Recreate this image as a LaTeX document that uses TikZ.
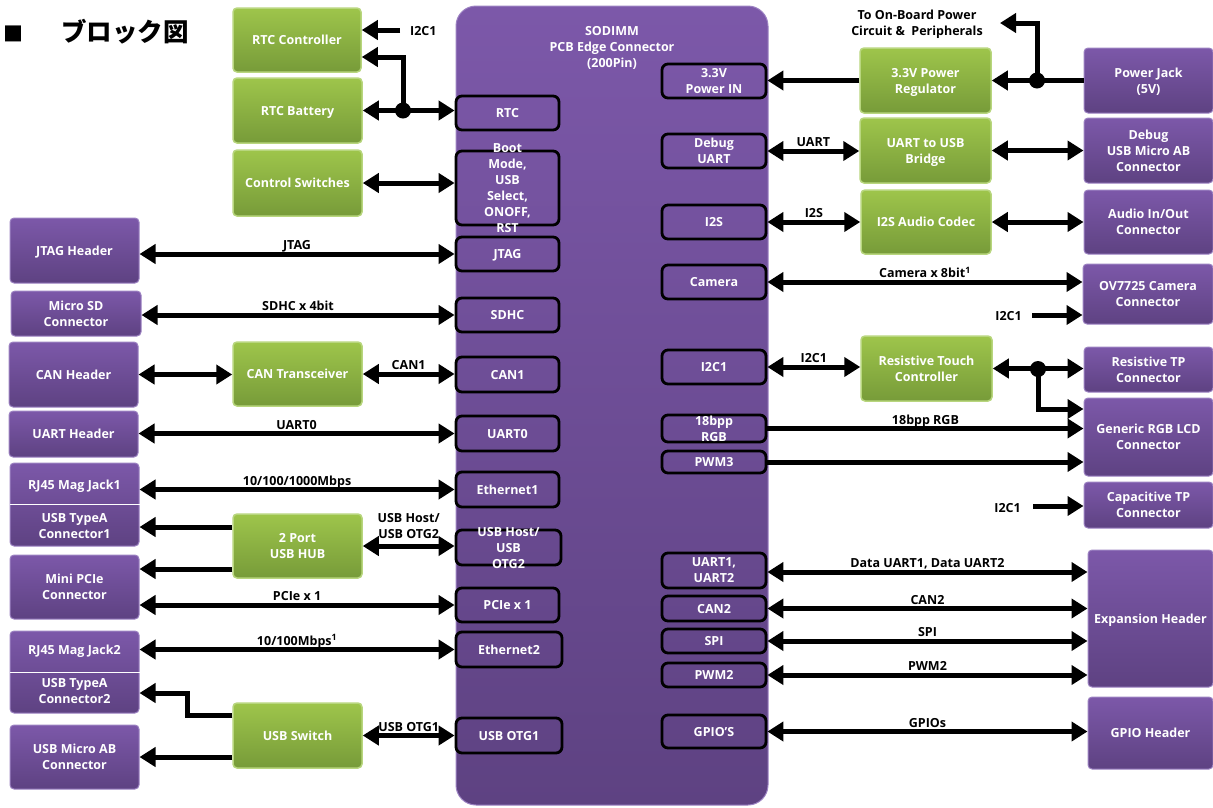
\documentclass[tikz,border=0pt]{standalone}
\usepackage{fontspec}
\setmainfont{Open Sans}
\newfontfamily\cjkfont{Noto Sans CJK JP}
\usetikzlibrary{arrows.meta,calc}
\definecolor{pTop}{HTML}{7C58A9}
\definecolor{pBot}{HTML}{5E4282}
\definecolor{pEdge}{HTML}{9C82C2}
\definecolor{gTop}{HTML}{9EC54B}
\definecolor{gBot}{HTML}{779B39}
\definecolor{gEdge}{HTML}{B8D67E}
\newcommand\diagfont{\bfseries\fontsize{12.5}{16}\selectfont}
\begin{document}
\begin{tikzpicture}[x=1pt,y=-1pt,
  every node/.style={font=\diagfont},
  sz/.style 2 args={minimum width=#1pt, minimum height=#2pt},
  pbox/.style={rounded corners=4pt, top color=pTop, bottom color=pBot, draw=pEdge, line width=1pt, text=white, align=center, inner sep=0pt, text depth=0pt},
  gbox/.style={rounded corners=4pt, top color=gTop, bottom color=gBot, draw=gEdge, line width=1.5pt, text=white, align=center, inner sep=0pt, text depth=0pt},
  ibox/.style={rounded corners=6pt, draw=black, line width=2.8pt, text=white, align=center, inner sep=0pt, text depth=0pt},
  ilbl/.style={text=white, align=center, inner sep=0pt, text depth=0pt},
  lbl/.style={text=black, align=center, inner sep=0pt},
  linelbl/.style={pos=0.5, anchor=base, yshift=4.5pt, text=black, inner sep=0pt},
  dot/.style={circle, fill=black, minimum size=16pt, inner sep=0pt},
  biarr/.style={line width=5pt, {Triangle[length=16pt,width=19pt]}-{Triangle[length=16pt,width=19pt]}},
  onearr/.style={line width=5pt, -{Triangle[length=16pt,width=19pt]}}
]
\useasboundingbox (0,0) rectangle (1213,807);

% title
\node[anchor=west, inner sep=0pt] (title) at (3,32) {{\cjkfont\fontsize{20}{20}\selectfont ■}\hspace{38pt}{\cjkfont\bfseries\fontsize{25.5}{30}\selectfont ブロック図}};

% SODIMM
\node[rounded corners=20pt, top color=pTop, bottom color=pBot, draw=pEdge, line width=1pt, sz={312}{799}] (sodimm) at (612,405.5) {};
\node[ilbl] (sodt) at (612,46.5) {SODIMM\\PCB Edge Connector\\(200Pin)};

% green boxes
\node[gbox, sz={128}{64}] (rtcc) at (297,40) {RTC Controller};
\node[gbox, sz={129}{65}] (rtcb) at (297.5,110.5) {RTC Battery};
\node[gbox, sz={129}{66}] (ctrl) at (297.5,183) {Control Switches};
\node[gbox, sz={129}{64}] (cant) at (297.5,374) {CAN Transceiver};
\node[gbox, sz={129}{64}] (hub) at (297.5,546) {2 Port\\USB HUB};
\node[gbox, sz={129}{65}] (usbsw) at (297.5,735.5) {USB Switch};
\node[gbox, sz={131}{65}] (reg) at (925.5,80.5) {3.3V Power\\Regulator};
\node[gbox, sz={131}{65}] (bridge) at (925.5,150.5) {UART to USB\\Bridge};
\node[gbox, sz={130}{64}] (codec) at (926,222) {I2S Audio Codec};
\node[gbox, sz={131}{65}] (rtouch) at (926.5,368.5) {Resistive Touch\\Controller};

% left purple boxes
\node[pbox, sz={129}{65}] (jtagh) at (74.5,250.5) {JTAG Header};
\node[pbox, sz={130}{45}] (sd) at (76,313.5) {Micro SD\\Connector};
\node[pbox, sz={129}{65}] (canh) at (73.5,374.5) {CAN Header};
\node[pbox, sz={129}{46}] (uarth) at (73.5,434) {UART Header};
\node[pbox, sz={129}{83},
  label={[ilbl, yshift=19.5pt]center:RJ45 Mag Jack1},
  label={[ilbl, yshift=-21pt]center:USB TypeA\\Connector1}] (rj1) at (74.5,504.5) {};
\draw[white, line width=1pt] (rj1.west) -- (rj1.east);
\node[pbox, sz={129}{64}] (pcie) at (74.5,587) {Mini PCIe\\Connector};
\node[pbox, sz={129}{82},
  label={[ilbl, yshift=22pt]center:RJ45 Mag Jack2},
  label={[ilbl, yshift=-19pt]center:USB TypeA\\Connector2}] (rj2) at (74.5,672) {};
\draw[white, line width=1pt] (rj2.west) -- (rj2.east);
\node[pbox, sz={129}{64}] (microab) at (74.5,757) {USB Micro AB\\Connector};

% right purple boxes
\node[pbox, sz={129}{65}] (pjack) at (1148.5,80.5) {Power Jack\\(5V)};
\node[pbox, sz={129}{65}] (dbgusb) at (1148.5,150.5) {Debug\\USB Micro AB\\Connector};
\node[pbox, sz={129}{64}] (audio) at (1148.5,222) {Audio In/Out\\Connector};
\node[pbox, sz={130}{60}] (ov) at (1148,294) {OV7725 Camera\\Connector};
\node[pbox, sz={129}{45}] (rtp) at (1148.5,369.5) {Resistive TP\\Connector};
\node[pbox, sz={129}{78}] (lcd) at (1148.5,437) {Generic RGB LCD\\Connector};
\node[pbox, sz={129}{46}] (ctp) at (1148.5,505) {Capacitive TP\\Connector};
\node[pbox, sz={125}{137}] (exph) at (1150.5,618.5) {Expansion Header};
\node[pbox, sz={125}{72}] (gpioh) at (1150.5,733) {GPIO Header};

% inner left boxes
\node[ibox, sz={103}{34}] (rtc) at (507.5,113) {RTC};
\node[ibox, sz={103}{74}, label={[ilbl]center:Boot\\Mode,\\USB\\Select,\\ONOFF,\\RST}] (boot) at (507.5,188) {};
\node[ibox, sz={103}{34}] (jtag) at (507.5,254) {JTAG};
\node[ibox, sz={103}{34}] (sdhc) at (507.5,315) {SDHC};
\node[ibox, sz={103}{35}] (can1) at (507.5,374.5) {CAN1};
\node[ibox, sz={103}{35}] (uart0) at (507.5,433.5) {UART0};
\node[ibox, sz={103}{35}] (eth1) at (507.5,489.5) {Ethernet1};
\node[ibox, sz={105}{35}, label={[ilbl]center:USB Host/\\USB\\OTG2}] (usbh) at (508.5,547.5) {};
\node[ibox, sz={103}{34}] (pciei) at (507.5,605) {PCIe x 1};
\node[ibox, sz={106}{35}] (eth2) at (509,649.5) {Ethernet2};
\node[ibox, sz={106}{35}] (otg1) at (509,735.5) {USB OTG1};

% inner right boxes
\node[ibox, sz={104}{34}] (pin) at (714,81) {3.3V\\Power IN};
\node[ibox, sz={104}{34}] (dbgu) at (714,151) {Debug\\UART};
\node[ibox, sz={104}{34}] (i2s) at (714,222) {I2S};
\node[ibox, sz={104}{34}] (cam) at (714,282) {Camera};
\node[ibox, sz={104}{34}] (i2c) at (714,367) {I2C1};
\node[ibox, sz={104}{27}, label={[ilbl]center:18bpp\\RGB}] (rgb) at (714,428.5) {};
\node[ibox, sz={104}{22}] (pwm3) at (714,462) {PWM3};
\node[ibox, sz={104}{35}] (uart12) at (714,570.5) {UART1,\\UART2};
\node[ibox, sz={104}{25}] (can2) at (714,608.5) {CAN2};
\node[ibox, sz={104}{24}] (spi) at (714,641) {SPI};
\node[ibox, sz={104}{24}] (pwm2) at (714,675) {PWM2};
\node[ibox, sz={104}{33}] (gpios) at (714,731.5) {GPIO’S};

% left connectors
\coordinate (i2cA) at (400,30);
\node[lbl, anchor=west] (i2cAl) at (410,31) {I2C1};
\draw[onearr] (i2cA) -- (i2cA -| rtcc.east);
\node[dot] (j1) at (403,110.5) {};
\draw[biarr] (rtcb.east) -- (rtcb.east -| rtc.west);
\draw[onearr] (j1.center) |- ([yshift=-17pt]rtcc.east);
\draw[biarr] (ctrl.east) -- (ctrl.east -| boot.west);
\draw[biarr] (jtagh.east |- jtag.west) -- (jtag.west) node[linelbl] {JTAG};
\draw[biarr] (sd.east |- sdhc.west) -- (sdhc.west) node[linelbl] {SDHC x 4bit};
\draw[biarr] (canh.east) -- (canh.east -| cant.west);
\draw[biarr] (cant.east) -- (cant.east -| can1.west) node[linelbl] {CAN1};
\draw[biarr] (uarth.east |- uart0.west) -- (uart0.west) node[linelbl] {UART0};
\draw[biarr] (rj1.east |- eth1.west) -- (eth1.west) node[linelbl] {10/100/1000Mbps};
\draw[onearr] ([yshift=19pt]hub.west) -- ([yshift=19pt]hub.west -| rj1.east);
\draw[onearr] ([yshift=-23pt]hub.west) -- ([yshift=-23pt]hub.west -| pcie.east);
\draw[biarr] (hub.east) -- (hub.east -| usbh.west) node[pos=0.5, anchor=south, yshift=5pt, lbl] {USB Host/\\USB OTG2};
\draw[biarr] (pcie.east |- pciei.west) -- (pciei.west) node[linelbl] {PCIe x 1};
\draw[biarr] (rj2.east |- eth2.west) -- (eth2.west) node[linelbl] {10/100Mbps\textsuperscript{1}};
\draw[onearr] ([yshift=20.5pt]usbsw.west) -- ++(-45,0) |- ([yshift=-21pt]rj2.east);
\draw[onearr] ([yshift=-21.5pt]usbsw.west) -- ([yshift=-21.5pt]usbsw.west -| microab.east);
\draw[biarr] (usbsw.east |- otg1.west) -- (otg1.west) node[linelbl] {USB OTG1};

% right connectors
\draw[onearr] (reg.west) -- (reg.west -| pin.east);
\node[dot] (j2) at (1037,80.5) {};
\draw[onearr] (pjack.west) -- (pjack.west -| reg.east);
\coordinate (pwrout) at (1000,23);
\draw[onearr] (j2.center) |- (pwrout);
\node[lbl] (pwrlbl) at (917,24) {To On-Board Power\\Circuit \&\ \ Peripherals};
\draw[biarr] (dbgu.east) -- (dbgu.east -| bridge.west) node[linelbl] {UART};
\draw[biarr] (bridge.east) -- (bridge.east -| dbgusb.west);
\draw[biarr] (i2s.east) -- (i2s.east -| codec.west) node[linelbl] {I2S};
\draw[biarr] (codec.east) -- (codec.east -| audio.west);
\draw[biarr] (cam.east) -- (cam.east -| ov.west) node[linelbl] {Camera x 8bit\textsuperscript{1}};
\coordinate (i2cB) at (1032,315);
\node[lbl, anchor=east] (i2cBl) at (1022,316) {I2C1};
\draw[onearr] (i2cB) -- (i2cB -| ov.west);
\draw[biarr] (i2c.east) -- (i2c.east -| rtouch.west) node[linelbl] {I2C1};
\node[dot] (j3) at (1038,369) {};
\draw[biarr] (rtouch.east) -- (rtouch.east -| rtp.west);
\draw[onearr] (j3.center) |- ([yshift=28pt]lcd.west);
\draw[onearr] (rgb.east) -- (rgb.east -| lcd.west) node[linelbl] {18bpp RGB};
\draw[onearr] (pwm3.east) -- (pwm3.east -| lcd.west);
\coordinate (i2cC) at (1033,506);
\node[lbl, anchor=east] (i2cCl) at (1021,508) {I2C1};
\draw[onearr] (i2cC) -- (i2cC -| ctp.west);
\draw[biarr] (uart12.east |- 0,572) -- (exph.west |- 0,572) node[linelbl] {Data UART1, Data UART2};
\draw[biarr] (can2.east) -- (can2.east -| exph.west) node[linelbl] {CAN2};
\draw[biarr] (spi.east) -- (spi.east -| exph.west) node[linelbl] {SPI};
\draw[biarr] (pwm2.east) -- (pwm2.east -| exph.west) node[linelbl] {PWM2};
\draw[biarr] (gpios.east) -- (gpios.east -| gpioh.west) node[linelbl] {GPIOs};
\end{tikzpicture}
\end{document}
